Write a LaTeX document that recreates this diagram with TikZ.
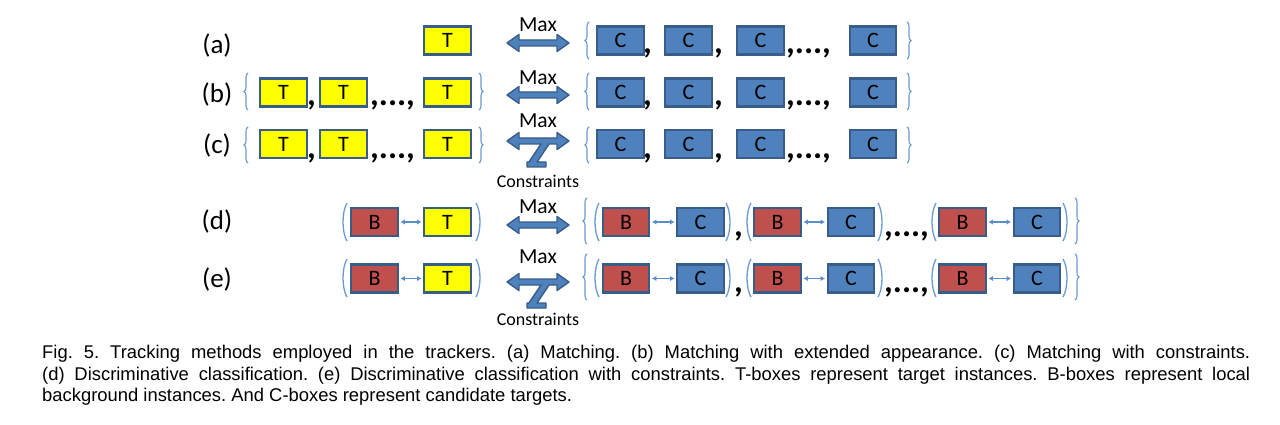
\documentclass[tikz,border=0pt]{standalone}
\usepackage{fontspec}
\setmainfont{Carlito}
\newfontfamily\capfont{Liberation Sans}
\usetikzlibrary{decorations.pathreplacing,arrows.meta}
\definecolor{tyellow}{HTML}{FFFF00}
\definecolor{cblue}{HTML}{4F81BD}
\definecolor{bred}{HTML}{C0504D}
\definecolor{edgeblue}{HTML}{385D8A}
\definecolor{braceblue}{HTML}{6A9BD2}
\definecolor{pairblue}{HTML}{5B8FCC}
\tikzset{
 bx/.style={draw=edgeblue, line width=2.4pt, minimum width=46.5pt, minimum height=28pt, inner sep=0pt, font=\fontsize{22}{22}\selectfont},
 tbx/.style={bx, fill=tyellow},
 cbx/.style={bx, fill=cblue},
 bbx/.style={bx, fill=bred},
 rowlbl/.style={font=\fontsize{27}{27}\selectfont, inner sep=0pt},
 maxlbl/.style={font=\fontsize{21.5}{21.5}\selectfont, inner sep=0pt, anchor=base},
 conlbl/.style={font=\fontsize{18}{18}\selectfont, inner sep=0pt, anchor=base},
 punct/.style={font=\bfseries\fontsize{34}{34}\selectfont, inner sep=0pt, anchor=base west},
 brc/.style={draw=braceblue, line width=1.1pt, decorate, decoration={brace, amplitude=4pt}},
 prn/.style={draw=braceblue, line width=1.3pt},
 dblarr/.style={fill=cblue, draw=edgeblue, line width=1.4pt, line join=round},
 pairarr/.style={draw=pairblue, line width=1.3pt, {Latex[length=4.5pt,width=5.5pt]}-{Latex[length=4.5pt,width=5.5pt]}, shorten <=1.5pt, shorten >=1.5pt},
}
\newcommand\maxarrow[2]{\begin{scope}[shift={(#1,#2)}]\filldraw[dblarr] (-31,0) -- (-19,-8.5) -- (-19,-3) -- (19,-3) -- (19,-8.5) -- (31,0) -- (19,8.5) -- (19,3) -- (-19,3) -- (-19,8.5) -- cycle;\end{scope}}
\newcommand\maxcarrow[2]{\begin{scope}[shift={(#1,#2)}]\filldraw[dblarr] (-31,0) -- (-19,-8.5) -- (-19,-3) -- (19,-3) -- (19,-8.5) -- (31,0) -- (19,8.5) -- (19,3) -- (11,3) -- (-1,21) -- (8,21) -- (8,26) -- (-11,26) -- (-11,21) -- (-9,21) -- (3,3) -- (-19,3) -- (-19,8.5) -- cycle;\end{scope}}
\newcommand\lbrc[3]{\draw[brc] ({#1},{#3}) -- ({#1},{#2});}
\newcommand\rbrc[3]{\draw[brc] ({#1},{#2}) -- ({#1},{#3});}
\newcommand\lprn[3]{\draw[prn] ({#1+4},{#2}) .. controls ({#1-1.33},{#2+9}) and ({#1-1.33},{#3-9}) .. ({#1+4},{#3});}
\newcommand\rprn[3]{\draw[prn] ({#1-4},{#2}) .. controls ({#1+1.33},{#2+9}) and ({#1+1.33},{#3-9}) .. ({#1-4},{#3});}
\begin{document}
\begin{tikzpicture}[x=1pt,y=-1pt]
\path[use as bounding box, fill=white] (0,0) rectangle (1280,425);
% ---------- row labels
\node[rowlbl] (la) at (217,45) {(a)};
\node[rowlbl] (lb) at (217,94) {(b)};
\node[rowlbl] (lc) at (217,145) {(c)};
\node[rowlbl] (ld) at (217,221) {(d)};
\node[rowlbl] (le) at (217,279) {(e)};
% ---------- row a
\node[tbx] (ta) at (447.5,40.5) {T};
\maxarrow{538}{43}
\node[maxlbl] (maxa) at (538,32) {Max};
\lbrc{589}{22}{59}
\node[cbx] (ca1) at (620.5,40.5) {C};
\node[punct] (pa1) at (643,54) {,};
\node[cbx] (ca2) at (688.5,40.5) {C};
\node[punct] (pa2) at (714,54) {,};
\node[cbx] (ca3) at (760.5,40.5) {C};
\node[punct] (pa3) at (786,54) {,...,};
\node[cbx] (ca4) at (873,40.5) {C};
\rbrc{907}{22}{59}
% ---------- row b
\lbrc{248}{73}{110}
\node[tbx] (tb1) at (283.5,92.5) {T};
\node[punct] (pb1) at (307,106) {,};
\node[tbx] (tb2) at (343.5,92.5) {T};
\node[punct] (pb2) at (370,106) {,...,};
\node[tbx] (tb3) at (447.5,92.5) {T};
\rbrc{479}{73}{110}
\maxarrow{538}{95}
\node[maxlbl] (maxb) at (538,85) {Max};
\lbrc{589}{73}{110}
\node[cbx] (cb1) at (620.5,92.5) {C};
\node[punct] (qb1) at (643,106) {,};
\node[cbx] (cb2) at (688.5,92.5) {C};
\node[punct] (qb2) at (714,106) {,};
\node[cbx] (cb3) at (760.5,92.5) {C};
\node[punct] (qb3) at (786,106) {,...,};
\node[cbx] (cb4) at (873,92.5) {C};
\rbrc{907}{73}{110}
% ---------- row c
\lbrc{248}{127}{163}
\node[tbx] (tc1) at (283.5,144) {T};
\node[punct] (pc1) at (307,158) {,};
\node[tbx] (tc2) at (343.5,144) {T};
\node[punct] (pc2) at (370,158) {,...,};
\node[tbx] (tc3) at (447.5,144) {T};
\rbrc{479}{127}{163}
\maxcarrow{538}{141}
\node[maxlbl] (maxc) at (538,128) {Max};
\node[conlbl] (conc) at (538,187) {Constraints};
\lbrc{589}{127}{163}
\node[cbx] (cc1) at (620.5,144) {C};
\node[punct] (qc1) at (643,158) {,};
\node[cbx] (cc2) at (688.5,144) {C};
\node[punct] (qc2) at (714,158) {,};
\node[cbx] (cc3) at (760.5,144) {C};
\node[punct] (qc3) at (786,158) {,...,};
\node[cbx] (cc4) at (873,144) {C};
\rbrc{907}{127}{163}
% ---------- row d
\lprn{343}{203}{241}
\node[bbx] (bd0) at (374.5,222) {B};
\node[tbx] (td0) at (447.5,222) {T};
\draw[pairarr] (bd0) -- (td0);
\rprn{480}{203}{241}
\maxarrow{538}{225}
\node[maxlbl] (maxd) at (538,213) {Max};
\lbrc{587}{198}{244}
\lprn{595}{203}{241}
\node[bbx] (bd1) at (626,222) {B};
\node[cbx] (cd1) at (700.5,222) {C};
\draw[pairarr] (bd1) -- (cd1);
\rprn{730}{203}{241}
\node[punct] (pd1) at (734,236) {,};
\lprn{747}{203}{241}
\node[bbx] (bd2) at (777.5,222) {B};
\node[cbx] (cd2) at (851,222) {C};
\draw[pairarr] (bd2) -- (cd2);
\rprn{882}{203}{241}
\node[punct] (pd2) at (884,236) {,...,};
\lprn{932}{203}{241}
\node[bbx] (bd3) at (962.5,222) {B};
\node[cbx] (cd3) at (1037,222) {C};
\draw[pairarr] (bd3) -- (cd3);
\rprn{1067}{203}{241}
\rbrc{1075}{198}{244}
% ---------- row e
\lprn{343}{259}{297}
\node[bbx] (be0) at (374.5,278.5) {B};
\node[tbx] (te0) at (447.5,278.5) {T};
\draw[pairarr] (be0) -- (te0);
\rprn{480}{259}{297}
\maxcarrow{538}{282}
\node[maxlbl] (maxe) at (538,263) {Max};
\node[conlbl] (cone) at (538,325) {Constraints};
\lbrc{587}{254}{300}
\lprn{595}{259}{297}
\node[bbx] (be1) at (626,278.5) {B};
\node[cbx] (ce1) at (700.5,278.5) {C};
\draw[pairarr] (be1) -- (ce1);
\rprn{730}{259}{297}
\node[punct] (pe1) at (734,292) {,};
\lprn{747}{259}{297}
\node[bbx] (be2) at (777.5,278.5) {B};
\node[cbx] (ce2) at (851,278.5) {C};
\draw[pairarr] (be2) -- (ce2);
\rprn{882}{259}{297}
\node[punct] (pe2) at (884,292) {,...,};
\lprn{932}{259}{297}
\node[bbx] (be3) at (962.5,278.5) {B};
\node[cbx] (ce3) at (1037,278.5) {C};
\draw[pairarr] (be3) -- (ce3);
\rprn{1067}{259}{297}
\rbrc{1075}{254}{300}
% ---------- caption
\node[anchor=north west, inner sep=0pt, text width=1208pt, align=justify,
      font=\capfont\fontsize{18.4}{21.5}\selectfont] (cap) at (42,345)
{\frenchspacing\hyphenpenalty=10000 Fig. 5. Tracking methods employed in the trackers. (a) Matching. (b) Matching with extended appearance. (c) Matching with constraints.\linebreak
(d) Discriminative classification. (e) Discriminative classification with constraints. T-boxes represent target instances. B-boxes represent local\linebreak
background instances. And C-boxes represent candidate targets.};
\end{tikzpicture}
\end{document}
